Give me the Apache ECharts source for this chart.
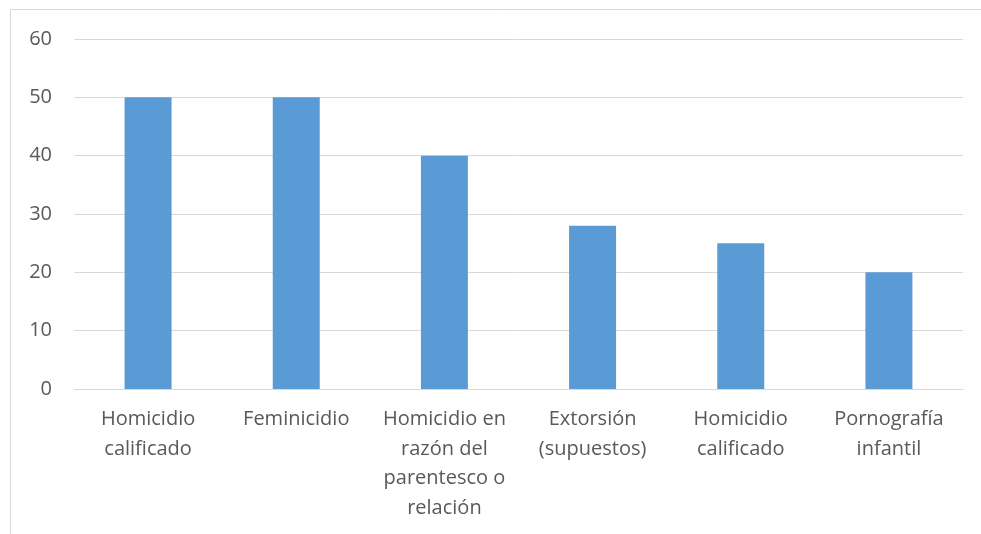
<!DOCTYPE html>
<html>
<head>
<meta charset="utf-8">
<style>
html,body{margin:0;padding:0;background:#fff;}
#chart{width:981px;height:534px;}
</style>
<script src="https://cdn.jsdelivr.net/npm/echarts@6/dist/echarts.min.js"></script>
</head>
<body>
<div id="chart"></div>
<script>
const categories = [
  "Homicidio\ncalificado",
  "Feminicidio",
  "Homicidio en\nrazón del\nparentesco o\nrelación",
  "Extorsión\n(supuestos)",
  "Homicidio\ncalificado",
  "Pornografía\ninfantil"
];
const values = [50, 50, 40, 28, 25, 20];

const chart = echarts.init(document.getElementById('chart'));
const FONT = 'Open Sans';
chart.setOption({
  animation: false,
  backgroundColor: '#ffffff',
  graphic: [{
    type: 'rect',
    shape: { x: 10.5, y: 9.5, width: 1200, height: 800 },
    style: { fill: 'none', stroke: '#d9d9d9', lineWidth: 1 },
    silent: true
  }],
  grid: { left: 74, right: 18, top: 39, bottom: 145 },
  xAxis: {
    type: 'category',
    data: categories,
    axisLine: { show: true, lineStyle: { color: '#d9d9d9', width: 1 } },
    axisTick: { show: false },
    axisLabel: {
      interval: 0,
      color: '#595959',
      fontFamily: FONT,
      fontSize: 20,
      lineHeight: 29.5,
      margin: 16
    }
  },
  yAxis: {
    type: 'value',
    min: 0, max: 60, interval: 10,
    axisLine: { show: false },
    axisTick: { show: false },
    splitLine: { lineStyle: { color: '#d9d9d9', width: 1 } },
    axisLabel: {
      color: '#595959',
      fontFamily: FONT,
      fontSize: 20,
      margin: 22
    }
  },
  series: [{
    type: 'bar',
    data: values,
    barWidth: 47,
    itemStyle: { color: '#5b9bd5' }
  }]
});
</script>
</body>
</html>
